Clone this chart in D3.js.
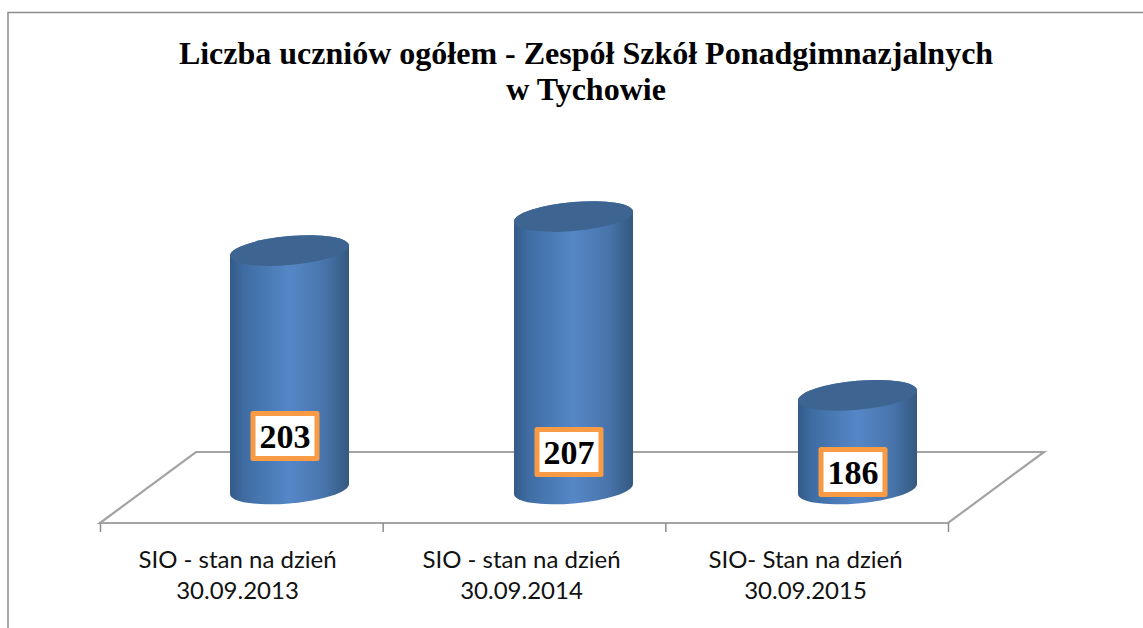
<!DOCTYPE html>
<html>
<head>
<meta charset="utf-8">
<script src="https://cdn.jsdelivr.net/npm/d3@7"></script>
<style>
  html, body { margin: 0; padding: 0; background: #fff; overflow: hidden; }
  svg { display: block; }
</style>
</head>
<body>
<div id="chart"></div>
<script>
const categories = ["SIO - stan na dzień", "SIO - stan na dzień", "SIO- Stan na dzień"];
const dates = ["30.09.2013", "30.09.2014", "30.09.2015"];
const values = [203, 207, 186];
const titleLines = ["Liczba uczniów ogółem - Zespół Szkół Ponadgimnazjalnych", "w Tychowie"];

const width = 1143, height = 628;

const svg = d3.select("#chart").append("svg")
    .attr("width", width)
    .attr("height", height);

// Horizontal shading of the cylinders
const defs = svg.append("defs");
const grad = defs.append("linearGradient").attr("id", "body");
[[0, "#335a88"], [0.12, "#3f6da3"], [0.5, "#5587c7"], [0.8, "#4874ab"], [1, "#34597f"]]
    .forEach(s => grad.append("stop").attr("offset", s[0]).attr("stop-color", s[1]));

// Outer frame, open on the right
svg.append("path")
    .attr("d", "M8,628V12.5H1143")
    .attr("fill", "none")
    .attr("stroke", "#8c8c8c")
    .attr("stroke-width", 1.5);

// Title
svg.append("text")
    .attr("font-family", "Liberation Serif")
    .attr("font-weight", "bold")
    .attr("font-size", 32)
    .attr("text-anchor", "middle")
    .selectAll("tspan")
    .data(titleLines)
    .enter()
    .append("tspan")
    .attr("x", 586)
    .attr("y", (d, i) => 64 + i * 36)
    .text(d => d);

// Scales
const floorLeft = 100, floorRight = 948, floorFront = 523, floorBack = 452, depthX = 96;
const x = d3.scaleBand().domain(d3.range(values.length)).range([floorLeft, floorRight]);
// Bars sit half way back on the floor, so they get their own band
const xBar = d3.scaleBand().domain(d3.range(values.length)).range([147.5, 999.5]);
const y = d3.scaleLinear().domain([175, 210]).range([489, 191]);

// Floor of the 3D plot
svg.append("path")
    .attr("d", d3.line()([
        [floorLeft, floorFront], [floorRight, floorFront],
        [floorRight + depthX, floorBack], [floorLeft + depthX, floorBack]
    ]) + "Z")
    .attr("fill", "none")
    .attr("stroke", "#a3a3a3")
    .attr("stroke-width", 2.2);

// Ticks under the floor, drawn by the axis
const tickPositions = d3.range(values.length + 1).map(i => floorLeft + i * x.bandwidth());
svg.append("g")
    .attr("transform", "translate(0," + floorFront + ")")
    .call(d3.axisBottom(d3.scaleLinear().domain([floorLeft, floorRight]).range([floorLeft, floorRight]))
        .tickValues(tickPositions).tickSize(9).tickFormat(""))
    .call(g => g.select(".domain").remove())
    .call(g => g.selectAll("line").attr("stroke", "#8c8c8c").attr("stroke-width", 1.5));

// Cylinders
const rx = 59.5, ry = 14.5, skew = -0.084;
const bars = svg.selectAll(".bar")
    .data(values)
    .enter()
    .append("g")
    .attr("class", "bar")
    .attr("transform", (d, i) => {
        const cx = xBar(i) + xBar.bandwidth() / 2;
        return "matrix(1," + skew + ",0,1," + cx + "," + y.range()[0] + ")";
    });

bars.append("path")
    .attr("fill", "url(#body)")
    .attr("d", d => {
        const top = y(d) - y.range()[0];
        return "M" + (-rx) + "," + top + "V0A" + rx + "," + ry + " 0 0 0 " + rx + ",0V" + top
            + "A" + rx + "," + ry + " 0 0 0 " + (-rx) + "," + top + "Z";
    });

bars.append("ellipse")
    .attr("cx", 0)
    .attr("cy", d => y(d) - y.range()[0])
    .attr("rx", rx)
    .attr("ry", ry)
    .attr("fill", "#3e6591");

// Value labels in orange boxes
const boxW = 64, boxH = 45;
const labelY = [436, 452, 472];
const labels = svg.selectAll(".label")
    .data(values)
    .enter()
    .append("g")
    .attr("class", "label")
    .attr("transform", (d, i) => {
        const cx = xBar(i) + xBar.bandwidth() / 2 - 4.5;
        return "translate(" + cx + "," + labelY[i] + ")";
    });

labels.append("rect")
    .attr("x", -boxW / 2)
    .attr("y", -boxH / 2)
    .attr("width", boxW)
    .attr("height", boxH)
    .attr("fill", "#fff")
    .attr("stroke", "#f99a45")
    .attr("stroke-width", 5)
    .attr("stroke-linejoin", "round");

labels.append("text")
    .attr("text-anchor", "middle")
    .attr("y", 12)
    .attr("font-family", "Liberation Serif")
    .attr("font-weight", "bold")
    .attr("font-size", 34)
    .text(d => d);

// Category labels
const catLabels = svg.selectAll(".cat")
    .data(categories)
    .enter()
    .append("text")
    .attr("class", "cat")
    .attr("text-anchor", "middle")
    .attr("font-family", "Lato")
    .attr("font-size", 24)
    .attr("fill", "#111");

catLabels.append("tspan")
    .attr("x", (d, i) => xBar(i) + xBar.bandwidth() / 2 - 52)
    .attr("y", 568)
    .text(d => d);

catLabels.append("tspan")
    .attr("x", (d, i) => xBar(i) + xBar.bandwidth() / 2 - 52)
    .attr("y", 599)
    .text((d, i) => dates[i]);
</script>
</body>
</html>
